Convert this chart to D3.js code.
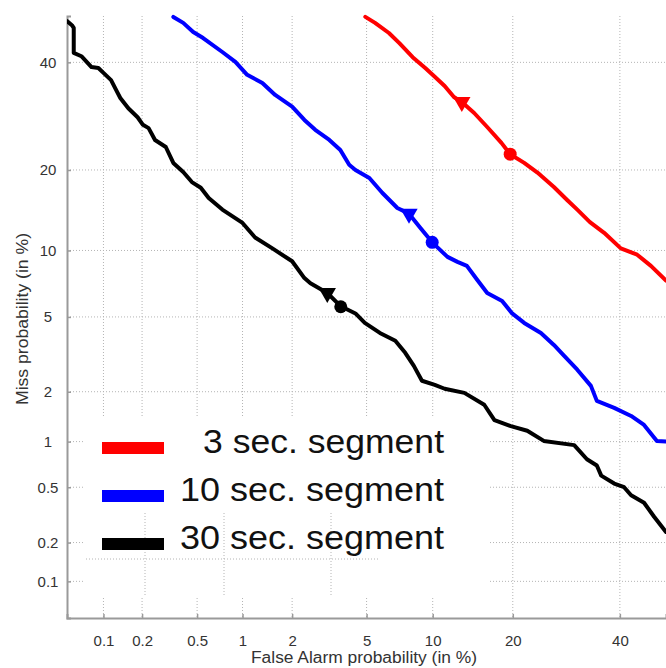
<!DOCTYPE html>
<html>
<head>
<meta charset="utf-8">
<script src="https://cdn.jsdelivr.net/npm/d3@7"></script>
<style>
  html, body { margin: 0; padding: 0; background: #fff; }
  svg { display: block; font-family: "Liberation Sans", Arial, Helvetica, sans-serif; }
  .grid line { stroke: #b4b4b4; stroke-width: 1; stroke-dasharray: 1 2; }
  .tick-label { fill: #333; font-size: 15px; }
  .axis-title { fill: #333; font-size: 16px; }
  .legend-text { fill: #111; font-size: 34px; }
</style>
</head>
<body>
<svg id="det" width="666" height="668"></svg>
<script>
(function(){
// DET plot: probabilities in %, both axes on a normal-deviate scale

const tickValues = [0.1, 0.2, 0.5, 1, 2, 5, 10, 20, 40];
const tickLabels = ["0.1", "0.2", "0.5", "1", "2", "5", "10", "20", "40"];

const seriesNames = ["3 sec. segment", "10 sec. segment", "30 sec. segment"];
const seriesColors = ["#ff0000", "#0000ff", "#000000"];

// [false alarm %, miss %]
const seg3 = [
  [4.93, 49.8], [5.5, 48.5], [6.4, 46.3], [7.15, 44.1], [8.2, 41.1], [9.3, 38.8],
  [10.2, 37.0], [11.2, 35.1], [12.2, 32.9], [13.1, 31.9], [14.6, 29.8], [16.3, 27.2],
  [18.3, 24.4], [19.6, 22.5], [21.8, 21.1], [24.0, 19.6], [26.9, 17.5], [29.4, 15.7],
  [31.3, 14.5], [33.8, 13.0], [36.7, 11.8], [40.2, 10.2], [43.7, 9.6], [46.7, 8.6],
  [50, 7.4]
];

const seg10 = [
  [0.34, 49.8], [0.40, 48.5], [0.47, 46.5], [0.55, 45.2], [0.74, 42.2], [0.90, 40.1],
  [1.07, 37.4], [1.33, 35.7], [1.59, 33.3], [2.0, 31.0], [2.35, 28.5], [2.70, 26.7],
  [3.22, 24.9], [3.68, 23.2], [4.09, 20.8], [4.4, 20.0], [5.16, 18.8], [5.95, 16.7],
  [7.0, 14.7], [7.9, 14.0], [8.85, 12.35], [9.95, 10.8], [11.5, 9.4], [12.6, 8.95],
  [13.7, 8.6], [15.0, 7.45], [16.3, 6.5], [18.4, 5.97], [19.9, 5.2], [21.8, 4.67],
  [24.6, 4.16], [26.9, 3.61], [28.8, 3.16], [31.3, 2.66], [34.0, 2.16], [35.2, 1.77],
  [38.8, 1.61], [42.4, 1.44], [45.2, 1.27], [48.0, 1.01], [50, 1.0]
];

const seg30 = [
  [0.050, 48.9], [0.055, 48.0], [0.057, 47.4], [0.057, 42.0], [0.066, 41.3], [0.080, 39.0],
  [0.091, 38.8], [0.100, 37.8], [0.115, 36.3], [0.126, 34.3], [0.136, 32.7], [0.157, 30.7],
  [0.185, 29.0], [0.203, 27.6], [0.224, 27.0], [0.25, 24.9], [0.30, 23.7], [0.34, 21.1],
  [0.40, 19.7], [0.46, 18.2], [0.53, 17.4], [0.60, 16.0], [0.74, 14.5], [1.00, 12.9],
  [1.20, 11.3], [1.53, 10.2], [2.0, 9.0], [2.35, 7.6], [2.54, 7.2], [3.14, 6.5],
  [3.68, 5.65], [4.4, 5.2], [4.9, 4.67], [5.8, 4.16], [6.85, 3.79], [7.6, 3.28],
  [8.3, 2.79], [9.0, 2.31], [10.2, 2.19], [11.2, 2.08], [13.4, 1.97], [15.9, 1.68],
  [17.3, 1.36], [19.7, 1.25], [22.3, 1.17], [25.1, 1.01], [30.7, 0.95], [33.2, 0.77],
  [35.2, 0.70], [36.1, 0.60], [38.8, 0.53], [40.9, 0.50], [42.4, 0.44], [45.2, 0.39],
  [47.4, 0.31], [50, 0.24]
];

// operating points: [false alarm %, miss %]
const triPoints = [[13.1, 31.9], [7.9, 14.0], [3.14, 6.5]];
const dotPoints = [[19.6, 22.5], [9.95, 10.8], [3.7, 5.6]];

const series = [seg3, seg10, seg30];

// inverse normal CDF (Acklam)
function probit(p) {
  const a = [-39.69683028665376, 220.9460984245205, -275.9285104469687, 138.3577518672690, -30.66479806614716, 2.506628277459239];
  const b = [-54.47609879822406, 161.5858368580409, -155.6989798598866, 66.80131188771972, -13.28068155288572];
  const c = [-0.007784894002430293, -0.3223964580411365, -2.400758277161838, -2.549732539343734, 4.374664141464968, 2.938163982698783];
  const d = [0.007784695709041462, 0.3224671290700398, 2.445134137142996, 3.754408661907416];
  const pl = 0.02425;
  let q, r;
  if (p < pl) {
    q = Math.sqrt(-2 * Math.log(p));
    return (((((c[0]*q+c[1])*q+c[2])*q+c[3])*q+c[4])*q+c[5]) / ((((d[0]*q+d[1])*q+d[2])*q+d[3])*q+1);
  }
  if (p <= 1 - pl) {
    q = p - 0.5; r = q * q;
    return (((((a[0]*r+a[1])*r+a[2])*r+a[3])*r+a[4])*r+a[5])*q / (((((b[0]*r+b[1])*r+b[2])*r+b[3])*r+b[4])*r+1);
  }
  q = Math.sqrt(-2 * Math.log(1 - p));
  return -(((((c[0]*q+c[1])*q+c[2])*q+c[3])*q+c[4])*q+c[5]) / ((((d[0]*q+d[1])*q+d[2])*q+d[3])*q+1);
}
const pz = v => probit(v / 100);

const svg = d3.select("#det");
const plotL = 67, plotR = 666, plotT = 16, plotB = 618;

const x = d3.scaleLinear().domain([pz(0.05), pz(50)]).range([plotL, plotR]);
const y = d3.scaleLinear().domain([pz(0.05), pz(50)]).range([plotB, plotT]);
const px = v => x(pz(v));
const py = v => y(pz(v));

svg.append("defs").append("clipPath").attr("id", "plot-clip")
  .append("rect").attr("x", plotL).attr("y", plotT - 4).attr("width", plotR - plotL + 4).attr("height", plotB - plotT + 4);

// grid
const grid = svg.append("g").attr("class", "grid");
grid.selectAll(".vg").data(tickValues).enter().append("line")
  .attr("x1", d => px(d)).attr("x2", d => px(d))
  .attr("y1", plotT).attr("y2", plotB);
grid.selectAll(".hg").data(tickValues).enter().append("line")
  .attr("x1", plotL).attr("x2", plotR)
  .attr("y1", d => py(d)).attr("y2", d => py(d));

// legend background hides the grid
svg.append("rect")
  .attr("x", 84).attr("y", 416).attr("width", 405).attr("height", 180)
  .attr("fill", "#fff");

// left-over grid fragments inside the legend box
const bits = svg.append("g").attr("class", "grid");
[[145, 513, 145, 597], [224, 513, 224, 597], [331, 513, 331, 597], [86, 559, 378, 559]].forEach(s => {
  bits.append("line").attr("x1", s[0]).attr("y1", s[1]).attr("x2", s[2]).attr("y2", s[3]);
});

// axes
const xAxis = d3.axisBottom(x)
  .tickValues(tickValues.map(pz))
  .tickFormat((d, i) => tickLabels[i])
  .tickSize(-4).tickPadding(17);
const yAxis = d3.axisLeft(y)
  .tickValues(tickValues.map(pz))
  .tickFormat((d, i) => tickLabels[i])
  .tickSize(-4);

const gx = svg.append("g").attr("transform", `translate(0,${plotB})`).call(xAxis);
const gy = svg.append("g").attr("transform", `translate(${plotL},0)`).call(yAxis);
[gx, gy].forEach(g => {
  g.select(".domain").attr("stroke", "#9a9a9a").attr("stroke-width", 2);
  g.selectAll(".tick line").attr("stroke", "#9a9a9a").attr("stroke-width", 1.5);
  g.selectAll(".tick text").attr("class", "tick-label").attr("fill", null)
    .style("font-size", "15px").style("font-family", "'Liberation Sans', Arial, sans-serif");
});
gy.selectAll(".tick text").attr("text-anchor", "middle").attr("x", -19);

// axis titles
svg.append("text").attr("class", "axis-title")
  .attr("x", 364).attr("y", 663).attr("text-anchor", "middle")
  .attr("textLength", 226).attr("lengthAdjust", "spacingAndGlyphs")
  .text("False Alarm probability (in %)");
svg.append("text").attr("class", "axis-title")
  .attr("transform", "translate(28,319) rotate(-90)").attr("text-anchor", "middle")
  .attr("textLength", 172).attr("lengthAdjust", "spacingAndGlyphs")
  .text("Miss probability (in %)");

// curves
const line = d3.line().x(d => px(d[0])).y(d => py(d[1]));
const curves = svg.append("g").attr("clip-path", "url(#plot-clip)");
curves.selectAll(".curve").data(series).enter().append("path")
  .attr("class", "curve")
  .attr("d", line)
  .attr("fill", "none")
  .attr("stroke", (d, i) => seriesColors[i])
  .attr("stroke-width", 4)
  .attr("stroke-linejoin", "round")
  .attr("stroke-linecap", "round");

// operating point markers
curves.selectAll(".tri").data(triPoints).enter().append("path")
  .attr("d", d3.symbol().type(d3.symbolTriangle).size(130))
  .attr("transform", d => `translate(${px(d[0])},${py(d[1])}) rotate(180)`)
  .attr("fill", (d, i) => seriesColors[i]);
curves.selectAll(".dot").data(dotPoints).enter().append("circle")
  .attr("cx", d => px(d[0])).attr("cy", d => py(d[1]))
  .attr("r", 6.5)
  .attr("fill", (d, i) => seriesColors[i]);

// legend
const rows = [448, 496, 544];
const legend = svg.append("g");
legend.selectAll("rect").data(seriesNames).enter().append("rect")
  .attr("x", 102).attr("y", (d, i) => rows[i] - 6)
  .attr("width", 62).attr("height", 12)
  .attr("fill", (d, i) => seriesColors[i]);
legend.selectAll("text").data(seriesNames).enter().append("text")
  .attr("class", "legend-text")
  .attr("x", 444).attr("y", (d, i) => rows[i] + 5)
  .attr("text-anchor", "end")
  .attr("textLength", (d, i) => i === 0 ? 241 : 264)
  .attr("lengthAdjust", "spacingAndGlyphs")
  .text(d => d);
})();
</script>
</body>
</html>
